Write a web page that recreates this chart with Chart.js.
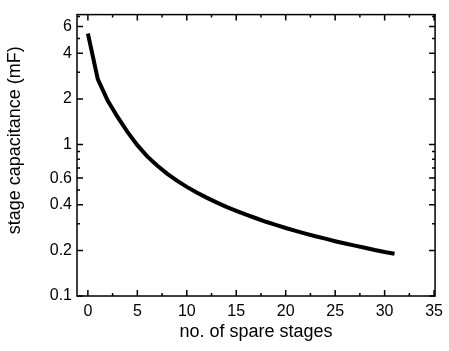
<!doctype html>
<html lang="en">
<head>
    <meta charset="utf-8">
    <title>Stage capacitance</title>
    <script src="https://cdn.jsdelivr.net/npm/chart.js"></script>
    <style>
        body { margin: 0; background: #fff; }
        canvas { display: block; }
    </style>
</head>
<body>

<canvas id="myChart" width="449" height="351"></canvas>

<script>
    // values
    const stages = [0, 1, 2, 3, 4, 5, 6, 7, 8, 9, 10, 11, 12, 13, 14, 15,
        16, 17, 18, 19, 20, 21, 22, 23, 24, 25, 26, 27, 28, 29, 30, 31];
    const capacitance = [5.4, 2.7, 1.95, 1.52, 1.21, 0.99, 0.835, 0.726, 0.643, 0.578, 0.525, 0.482,
        0.446, 0.415, 0.388, 0.365, 0.344, 0.326, 0.309, 0.295, 0.281, 0.269, 0.258, 0.248,
        0.239, 0.23, 0.222, 0.215, 0.208, 0.201, 0.195, 0.19];

    const xTicks = [0, 5, 10, 15, 20, 25, 30, 35];
    const xMinor = [2.5, 7.5, 12.5, 17.5, 22.5, 27.5, 32.5];
    const yTicks = [0.1, 0.2, 0.4, 0.6, 1, 2, 4, 6];
    const yMinor = [0.3, 0.5, 0.7, 0.8, 0.9, 3, 5, 7];

    const points = stages.map((s, i) => ({x: s, y: capacitance[i]}));

    // frame round the plot and inward ticks on all four sides
    const frame = {
        id: 'frame',
        afterDraw(chart) {
            const ctx = chart.ctx;
            const a = chart.chartArea;
            const xs = chart.scales.x;
            const ys = chart.scales.y;
            ctx.save();
            ctx.strokeStyle = '#000';
            ctx.lineWidth = 1.5;
            ctx.strokeRect(a.left, a.top, a.right - a.left, a.bottom - a.top);
            ctx.beginPath();
            const tx = (v, len) => {
                const p = xs.getPixelForValue(v);
                ctx.moveTo(p, a.bottom); ctx.lineTo(p, a.bottom - len);
                ctx.moveTo(p, a.top); ctx.lineTo(p, a.top + len);
            };
            const ty = (v, len) => {
                const p = ys.getPixelForValue(v);
                if (p < a.top + 1) return;
                ctx.moveTo(a.left, p); ctx.lineTo(a.left + len, p);
                ctx.moveTo(a.right, p); ctx.lineTo(a.right - len, p);
            };
            xTicks.forEach(v => tx(v, 6));
            xMinor.forEach(v => tx(v, 3));
            yTicks.forEach(v => ty(v, 6));
            yMinor.forEach(v => ty(v, 3));
            ctx.stroke();
            ctx.restore();
        }
    };

    const config = {
        type: 'line',
        data: {
            datasets: [{
                data: points,
                borderColor: '#000',
                borderWidth: 4,
                pointRadius: 0,
                tension: 0,
                fill: false
            }]
        },
        options: {
            responsive: false,
            animation: false,
            layout: {padding: {left: 0, right: 9, top: 14, bottom: 0}},
            plugins: {legend: {display: false}, tooltip: {enabled: false}},
            scales: {
                x: {
                    type: 'linear',
                    min: -1.1,
                    max: 35.1,
                    grid: {display: false, drawTicks: false},
                    border: {display: false},
                    afterBuildTicks: s => { s.ticks = xTicks.map(v => ({value: v})); },
                    afterFit: s => { s.height = 55; },
                    ticks: {
                        color: '#000',
                        padding: 6,
                        maxRotation: 0,
                        font: {family: 'Liberation Sans', size: 16}
                    },
                    title: {
                        display: true,
                        text: 'no. of spare stages',
                        color: '#000',
                        padding: {top: 0, bottom: 8},
                        font: {family: 'Liberation Sans', size: 18}
                    }
                },
                y: {
                    type: 'logarithmic',
                    min: 0.1,
                    max: 7.2,
                    grid: {display: false, drawTicks: false},
                    border: {display: false},
                    afterBuildTicks: s => { s.ticks = yTicks.map(v => ({value: v})); },
                    afterFit: s => { s.width = 77; },
                    ticks: {
                        color: '#000',
                        padding: 5,
                        font: {family: 'Liberation Sans', size: 16},
                        callback: v => String(v)
                    },
                    title: {
                        display: true,
                        // leading spaces lift the label a little above the axis middle, as in the original
                        text: '\u00A0\u00A0\u00A0\u00A0\u00A0\u00A0stage capacitance (mF)',
                        color: '#000',
                        padding: {top: 4, bottom: 0},
                        font: {family: 'Liberation Sans', size: 18}
                    }
                }
            }
        },
        plugins: [frame]
    };

    const myChart = new Chart(document.getElementById('myChart'), config);
</script>

</body>
</html>
